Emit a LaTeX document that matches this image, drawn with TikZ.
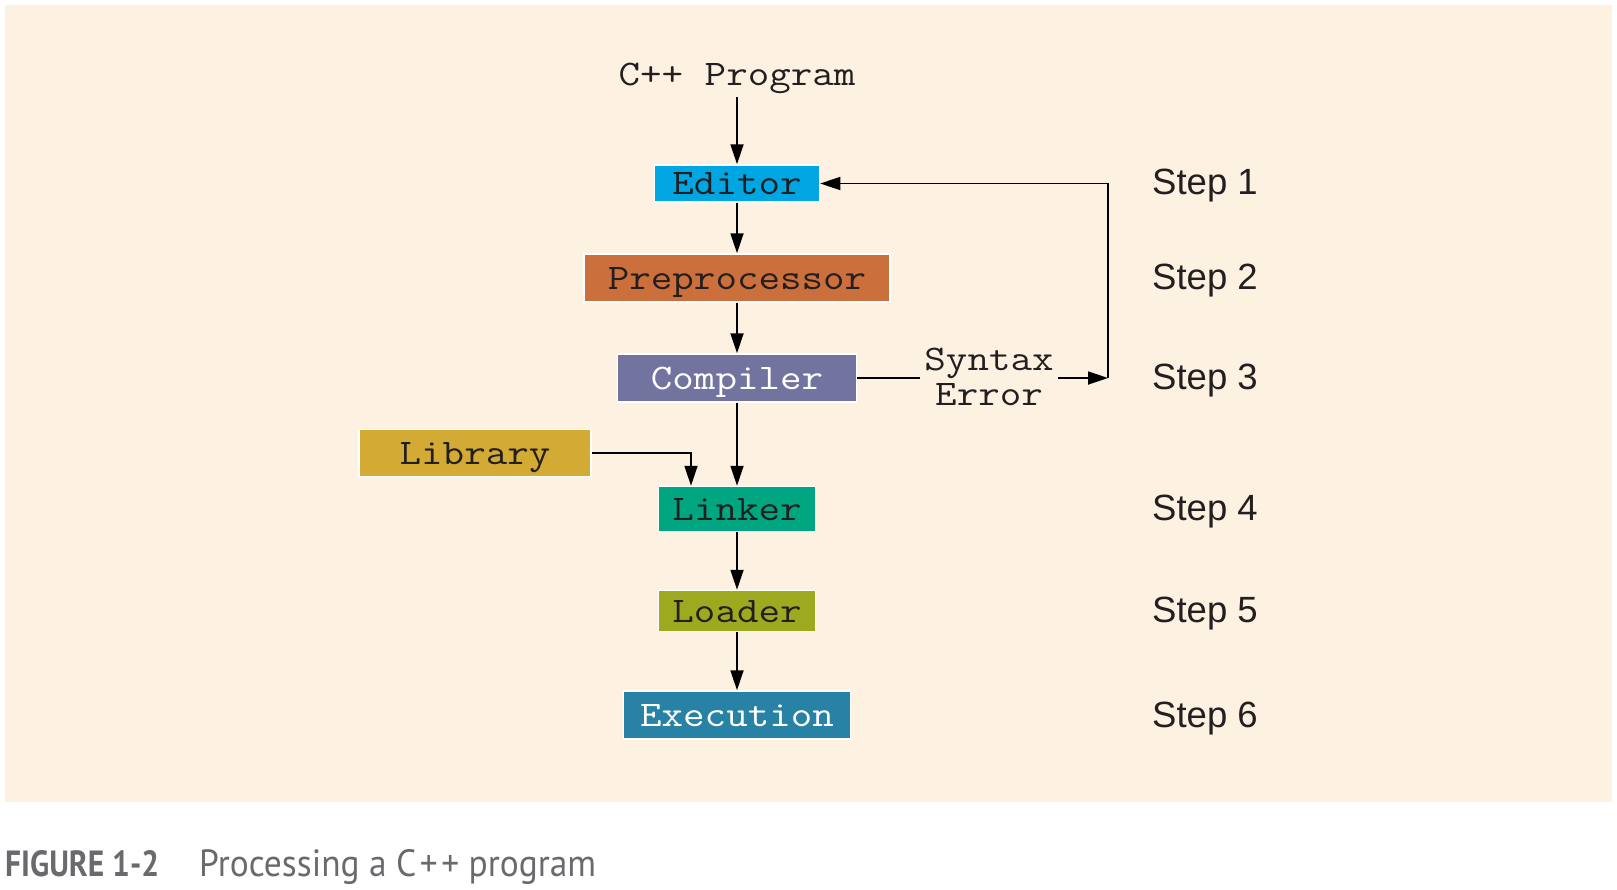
\documentclass[tikz,border=0pt]{standalone}
\usepackage{fontspec}
\setmainfont{Liberation Sans}
\newfontfamily\capf{PT Sans}
\usetikzlibrary{arrows.meta}
\newcommand{\cw}[1]{\scalebox{1.16}[1]{#1}}
\definecolor{panel}{RGB}{253,241,226}
\definecolor{txt}{RGB}{35,31,32}
\definecolor{cEd}{RGB}{0,166,226}
\definecolor{cPre}{RGB}{203,111,60}
\definecolor{cComp}{RGB}{115,115,160}
\definecolor{cLib}{RGB}{210,170,52}
\definecolor{cLink}{RGB}{0,166,128}
\definecolor{cLoad}{RGB}{157,170,32}
\definecolor{cExec}{RGB}{40,130,166}
\definecolor{capgray}{RGB}{105,106,109}
\begin{document}
\begin{tikzpicture}[x=1pt,y=-1pt,
  mono/.style={font=\ttfamily\fontsize{36}{35}\selectfont, text=txt},
  box/.style={mono, draw=white, line width=1.5pt, inner sep=0pt, text height=22pt, text depth=0pt},
  arr/.style={line width=1.8pt, -{Triangle[length=20pt,width=13pt]}},
  ln/.style={line width=1.8pt},
  steplbl/.style={font=\fontsize{36.5}{36.5}\selectfont, text=txt, anchor=west, inner sep=0pt, text height=26pt, text depth=0pt}]
\useasboundingbox (0,0) rectangle (1617,889);
\fill[panel] (5,5) rectangle (1612,802);

\node[mono, inner xsep=0pt, inner ysep=12pt, text height=22pt, text depth=0pt] (prog) at (737,74) {\cw{C++ Program}};
\node[box, fill=cEd, minimum width=165pt, minimum height=37pt] (ed) at (737,183.5) {\cw{Editor}};
\node[box, fill=cPre, minimum width=306pt, minimum height=48pt] (pre) at (737,278) {\cw{Preprocessor}};
\node[box, fill=cComp, text=white, minimum width=239pt, minimum height=48pt] (comp) at (737,378) {\cw{Compiler}};
\node[box, fill=cLib, minimum width=232pt, minimum height=47pt] (lib) at (475,453) {\cw{Library}};
\node[box, fill=cLink, minimum width=157pt, minimum height=45pt] (link) at (737,509) {\cw{Linker}};
\node[box, fill=cLoad, minimum width=157pt, minimum height=41pt] (load) at (737,611) {\cw{Loader}};
\node[box, fill=cExec, text=white, minimum width=227pt, minimum height=48pt] (exec) at (737,715) {\cw{Execution}};
\node[mono, align=center, inner xsep=4pt, inner ysep=0pt] (syn) at (989,377) {\cw{Syntax}\\\cw{Error}};

\coordinate (c1) at (1108,378);
\coordinate (c2) at (1108,183.5);

\draw[arr] (prog.south) -- (ed.north);
\draw[arr] (ed.south) -- (pre.north);
\draw[arr] (pre.south) -- (comp.north);
\draw[arr] (comp.south) -- (link.north);
\draw[arr] (link.south) -- (load.north);
\draw[arr] (load.south) -- (exec.north);
\draw[arr] (lib.east) -| ([xshift=-46pt]link.north);
\draw[ln] (comp.east) -- (comp.east -| syn.west);
\draw[arr] (comp.east -| syn.east) -- (c1);
\draw[arr] (c1) -- (c2) -- (ed.east);

\node[steplbl] (s1) at (1152,181) {Step 1};
\node[steplbl] (s2) at (1152,276) {Step 2};
\node[steplbl] (s3) at (1152,376) {Step 3};
\node[steplbl] (s4) at (1152,507) {Step 4};
\node[steplbl] (s5) at (1152,609) {Step 5};
\node[steplbl] (s6) at (1152,714) {Step 6};

\node[anchor=base west, inner sep=0pt, text=capgray] (fig) at (5,876) {\resizebox{154pt}{26pt}{\capf\bfseries FIGURE 1-2}};
\node[anchor=base west, inner sep=0pt, text=capgray] (cap) at (199,876) {\resizebox{397pt}{27pt}{\capf Processing a C\kern1pt+\kern1pt+ program}};
\end{tikzpicture}
\end{document}
